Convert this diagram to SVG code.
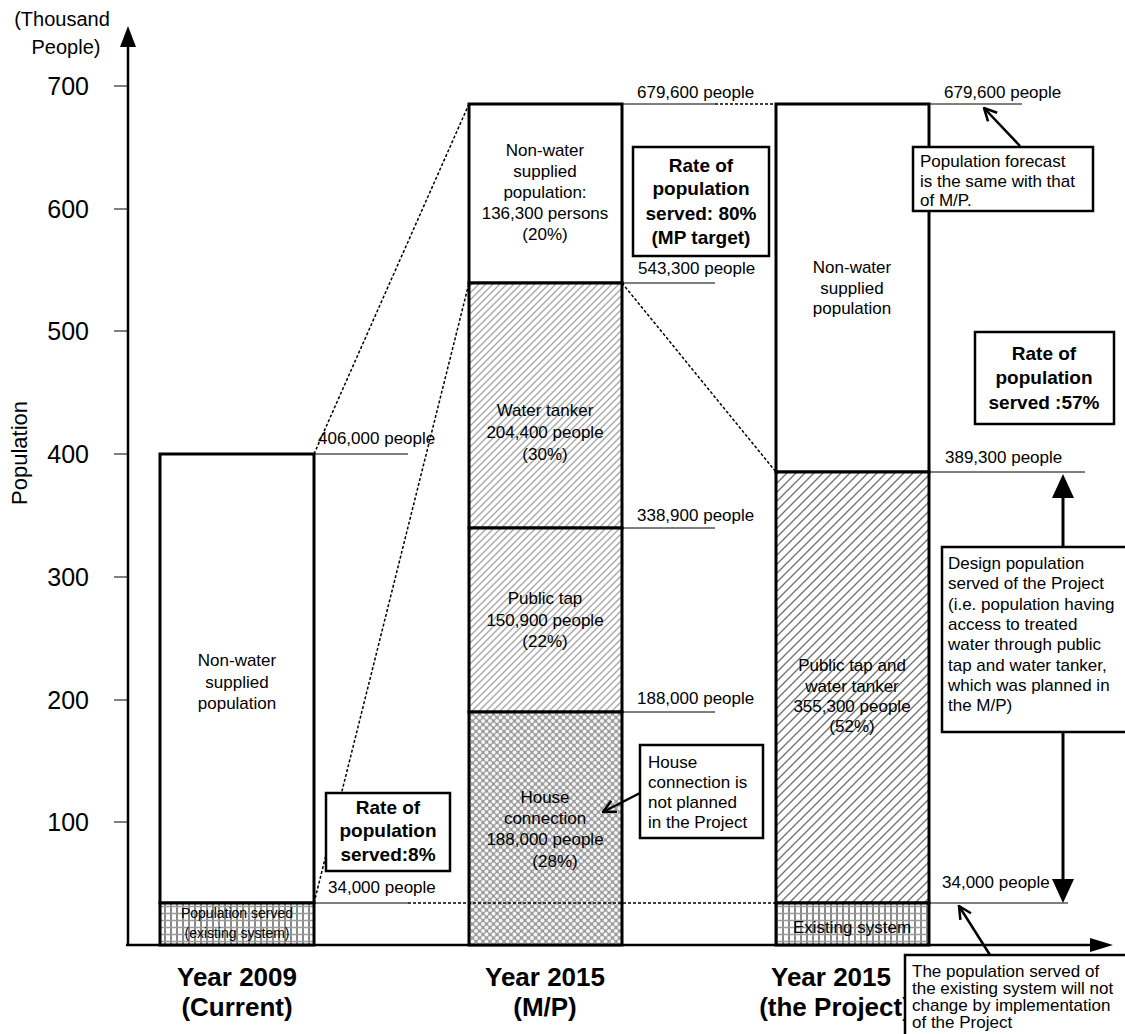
<svg xmlns="http://www.w3.org/2000/svg" width="1125" height="1034" viewBox="0 0 1125 1034">
  <style>
    text { font-family: "Liberation Sans", Arial, sans-serif; fill: #000; }
    .tick { font-size: 25px; text-anchor: end; }
    .lbl { font-size: 17px; }
    .mid { font-size: 17px; text-anchor: middle; }
    .bold { font-size: 19px; font-weight: bold; text-anchor: middle; }
    .year { font-size: 26px; font-weight: bold; text-anchor: middle; }
    .bar { stroke: #000; stroke-width: 3; }
    .thin { stroke: #000; stroke-width: 1; fill: none; }
    .dot { stroke: #000; stroke-width: 1.5; stroke-dasharray: 3 2; fill: none; }
    .box { fill: #fff; stroke: #000; stroke-width: 2.5; }
    .arrow { stroke: #000; stroke-width: 2.5; fill: none; }
  </style>
  <defs>
    <pattern id="diagLight" width="7" height="7" patternUnits="userSpaceOnUse">
      <rect width="7" height="7" fill="#fff"/>
      <path d="M-1,1 L1,-1 M0,7 L7,0 M6,8 L8,6" stroke="#a8a8a8" stroke-width="1.4"/>
    </pattern>
    <pattern id="diagDark" width="9" height="9" patternUnits="userSpaceOnUse">
      <rect width="9" height="9" fill="#fff"/>
      <path d="M-1,1 L1,-1 M0,9 L9,0 M8,10 L10,8" stroke="#707070" stroke-width="1.3"/>
    </pattern>
    <pattern id="grid" width="6" height="7" patternUnits="userSpaceOnUse">
      <rect width="6" height="7" fill="#fff"/>
      <path d="M3,0 V7" stroke="#8a8a8a" stroke-width="2"/>
      <path d="M0,3.5 H6" stroke="#9a9a9a" stroke-width="1.5"/>
    </pattern>
    <pattern id="dots" width="7" height="7" patternUnits="userSpaceOnUse">
      <rect width="7" height="7" fill="#9c9c9c"/>
      <circle cx="0" cy="0" r="2" fill="#f4f4f4"/>
      <circle cx="7" cy="0" r="2" fill="#f4f4f4"/>
      <circle cx="0" cy="7" r="2" fill="#f4f4f4"/>
      <circle cx="7" cy="7" r="2" fill="#f4f4f4"/>
      <circle cx="3.5" cy="3.5" r="2" fill="#f4f4f4"/>
    </pattern>
    <marker id="vee" viewBox="0 0 12 12" refX="11" refY="6" markerWidth="15" markerHeight="15" markerUnits="userSpaceOnUse" orient="auto">
      <path d="M1,1 L11,6 L1,11" fill="none" stroke="#000" stroke-width="2"/>
    </marker>
  </defs>

  <rect width="1125" height="1034" fill="#fff"/>

  <!-- axes -->
  <g id="axes">
    <line x1="128" y1="945" x2="128" y2="44" stroke="#000" stroke-width="2.5"/>
    <polygon points="128,26 120,47 136,47" fill="#000"/>
    <line x1="126" y1="945" x2="1092" y2="945" stroke="#000" stroke-width="2.5"/>
    <polygon points="1113,945 1090,938 1090,952" fill="#000"/>
    <g stroke="#000" stroke-width="1">
      <line x1="114" y1="86" x2="128" y2="86"/>
      <line x1="114" y1="209" x2="128" y2="209"/>
      <line x1="114" y1="331" x2="128" y2="331"/>
      <line x1="114" y1="454" x2="128" y2="454"/>
      <line x1="114" y1="577" x2="128" y2="577"/>
      <line x1="114" y1="700" x2="128" y2="700"/>
      <line x1="114" y1="822" x2="128" y2="822"/>
    </g>
    <text class="tick" x="89" y="95">700</text>
    <text class="tick" x="89" y="218">600</text>
    <text class="tick" x="89" y="340">500</text>
    <text class="tick" x="89" y="463">400</text>
    <text class="tick" x="89" y="586">300</text>
    <text class="tick" x="89" y="709">200</text>
    <text class="tick" x="89" y="831">100</text>
    <text x="62" y="26" font-size="20" text-anchor="middle">(Thousand</text>
    <text x="66" y="54" font-size="20" text-anchor="middle">People)</text>
    <text transform="translate(27,453) rotate(-90)" font-size="22" text-anchor="middle">Population</text>
    <text class="year" x="237" y="986">Year 2009</text>
    <text class="year" x="237" y="1016">(Current)</text>
    <text class="year" x="545" y="986">Year 2015</text>
    <text class="year" x="545" y="1016">(M/P)</text>
    <text class="year" x="831" y="986">Year 2015</text>
    <text class="year" x="835" y="1016" font-size="25">(the Project)</text>
  </g>

  <!-- 2009 bar -->
  <g id="bar-2009">
    <rect class="bar" x="160" y="454" width="154" height="449" fill="#fff"/>
    <rect class="bar" x="160" y="903" width="154" height="42" fill="url(#grid)"/>
    <text class="mid" x="237" y="666">Non-water</text>
    <text class="mid" x="237" y="688">supplied</text>
    <text class="mid" x="237" y="709">population</text>
    <text x="237" y="918" font-size="14" text-anchor="middle">Population served</text>
    <text x="237" y="938" font-size="14" text-anchor="middle">(existing system)</text>
  </g>

  <!-- 2015 master plan bar -->
  <g id="bar-2015-mp">
    <rect class="bar" x="469" y="104" width="153" height="179" fill="#fff"/>
    <rect class="bar" x="469" y="283" width="153" height="245" fill="url(#diagLight)"/>
    <rect class="bar" x="469" y="528" width="153" height="184" fill="url(#diagLight)"/>
    <rect class="bar" x="469" y="712" width="153" height="233" fill="url(#dots)"/>
    <text class="mid" x="545" y="156">Non-water</text>
    <text class="mid" x="545" y="177">supplied</text>
    <text class="mid" x="545" y="198">population:</text>
    <text class="mid" x="545" y="219">136,300 persons</text>
    <text class="mid" x="545" y="240">(20%)</text>
    <text class="mid" x="545" y="416">Water tanker</text>
    <text class="mid" x="545" y="438">204,400 people</text>
    <text class="mid" x="545" y="460">(30%)</text>
    <text class="mid" x="545" y="604">Public tap</text>
    <text class="mid" x="545" y="626">150,900 people</text>
    <text class="mid" x="545" y="647">(22%)</text>
    <text class="mid" x="545" y="803">House</text>
    <text class="mid" x="545" y="824">connection</text>
    <text class="mid" x="545" y="845">188,000 people</text>
    <text class="mid" x="555" y="867">(28%)</text>
  </g>

  <!-- 2015 project bar -->
  <g id="bar-2015-project">
    <rect class="bar" x="776" y="104" width="153" height="368" fill="#fff"/>
    <rect class="bar" x="776" y="472" width="153" height="431" fill="url(#diagDark)"/>
    <rect class="bar" x="776" y="903" width="153" height="42" fill="url(#grid)"/>
    <text class="mid" x="852" y="273">Non-water</text>
    <text class="mid" x="852" y="294">supplied</text>
    <text class="mid" x="852" y="314">population</text>
    <text class="mid" x="852" y="671">Public tap and</text>
    <text class="mid" x="852" y="692">water tanker</text>
    <text class="mid" x="852" y="712">355,300 people</text>
    <text class="mid" x="852" y="732">(52%)</text>
    <text class="mid" x="852" y="933">Existing system</text>
  </g>

  <!-- connectors: leader lines, dotted guides, arrows -->
  <g id="connectors">
    <line class="thin" x1="314" y1="454" x2="408" y2="454"/>
    <line class="thin" x1="314" y1="903" x2="408" y2="903"/>
    <line class="thin" x1="622" y1="104" x2="715" y2="104"/>
    <line class="thin" x1="622" y1="283" x2="715" y2="283"/>
    <line class="thin" x1="622" y1="528" x2="715" y2="528"/>
    <line class="thin" x1="622" y1="712" x2="715" y2="712"/>
    <line class="thin" x1="929" y1="104" x2="1022" y2="104"/>
    <line class="thin" x1="929" y1="472" x2="1085" y2="472"/>
    <line class="thin" x1="929" y1="903" x2="1068" y2="903"/>

    <line class="dot" x1="314" y1="454" x2="469" y2="104"/>
    <line class="dot" x1="314" y1="903" x2="469" y2="283"/>
    <line class="dot" x1="622" y1="283" x2="776" y2="472"/>
    <line class="dot" x1="715" y1="104" x2="776" y2="104"/>
    <line class="dot" x1="408" y1="903" x2="776" y2="903"/>

    <line class="arrow" x1="642" y1="792" x2="603" y2="812" marker-end="url(#vee)"/>
    <line class="arrow" x1="1020" y1="146" x2="984" y2="108" marker-end="url(#vee)"/>
    <line class="arrow" x1="990" y1="955" x2="959" y2="906" marker-end="url(#vee)"/>

    <line x1="1063" y1="495" x2="1063" y2="884" stroke="#000" stroke-width="3"/>
    <polygon points="1063,474 1052,498 1074,498" fill="#000"/>
    <polygon points="1063,903 1052,879 1074,879" fill="#000"/>
  </g>

  <!-- value labels -->
  <g id="values">
    <text class="lbl" x="318" y="444">406,000 people</text>
    <text class="lbl" x="328" y="893">34,000 people</text>
    <text class="lbl" x="637" y="98">679,600 people</text>
    <text class="lbl" x="638" y="274">543,300 people</text>
    <text class="lbl" x="637" y="521">338,900 people</text>
    <text class="lbl" x="637" y="704">188,000 people</text>
    <text class="lbl" x="944" y="98">679,600 people</text>
    <text class="lbl" x="945" y="463">389,300 people</text>
    <text class="lbl" x="942" y="888">34,000 people</text>
  </g>

  <!-- rate boxes -->
  <g id="rate-2009">
    <rect class="box" x="326" y="793" width="124" height="78"/>
    <text class="bold" x="388" y="814">Rate of</text>
    <text class="bold" x="388" y="837">population</text>
    <text class="bold" x="388" y="861">served:8%</text>
  </g>
  <g id="rate-mp">
    <rect class="box" x="633" y="147" width="136" height="109"/>
    <text class="bold" x="701" y="172">Rate of</text>
    <text class="bold" x="701" y="195">population</text>
    <text class="bold" x="701" y="220">served: 80%</text>
    <text class="bold" x="701" y="244">(MP target)</text>
  </g>
  <g id="rate-project">
    <rect class="box" x="975" y="332" width="139" height="92"/>
    <text class="bold" x="1044" y="360">Rate of</text>
    <text class="bold" x="1044" y="384">population</text>
    <text class="bold" x="1044" y="409">served :57%</text>
  </g>

  <!-- callout notes -->
  <g id="note-house">
    <rect class="box" x="640" y="745" width="123" height="93" stroke-width="2"/>
    <text class="lbl" x="648" y="768">House</text>
    <text class="lbl" x="648" y="788">connection is</text>
    <text class="lbl" x="648" y="808">not planned</text>
    <text class="lbl" x="648" y="828">in the Project</text>
  </g>
  <g id="note-forecast">
    <rect class="box" x="913" y="147" width="180" height="64" stroke-width="2"/>
    <text class="lbl" x="920" y="167">Population forecast</text>
    <text class="lbl" x="920" y="187">is the same with that</text>
    <text class="lbl" x="920" y="206">of M/P.</text>
  </g>
  <g id="note-design">
    <rect class="box" x="942" y="547" width="200" height="185" stroke-width="2"/>
    <text class="lbl" x="948" y="569">Design population</text>
    <text class="lbl" x="948" y="589">served of the Project</text>
    <text class="lbl" x="948" y="610">(i.e. population having</text>
    <text class="lbl" x="948" y="630">access to treated</text>
    <text class="lbl" x="948" y="650">water through public</text>
    <text class="lbl" x="948" y="671">tap and water tanker,</text>
    <text class="lbl" x="948" y="691">which was planned in</text>
    <text class="lbl" x="948" y="711">the M/P)</text>
  </g>
  <g id="note-existing">
    <rect class="box" x="905" y="955" width="240" height="100" stroke-width="2"/>
    <text class="lbl" x="912" y="977">The population served of</text>
    <text class="lbl" x="912" y="994">the existing system will not</text>
    <text class="lbl" x="912" y="1011">change by implementation</text>
    <text class="lbl" x="912" y="1028">of the Project</text>
  </g>
</svg>
